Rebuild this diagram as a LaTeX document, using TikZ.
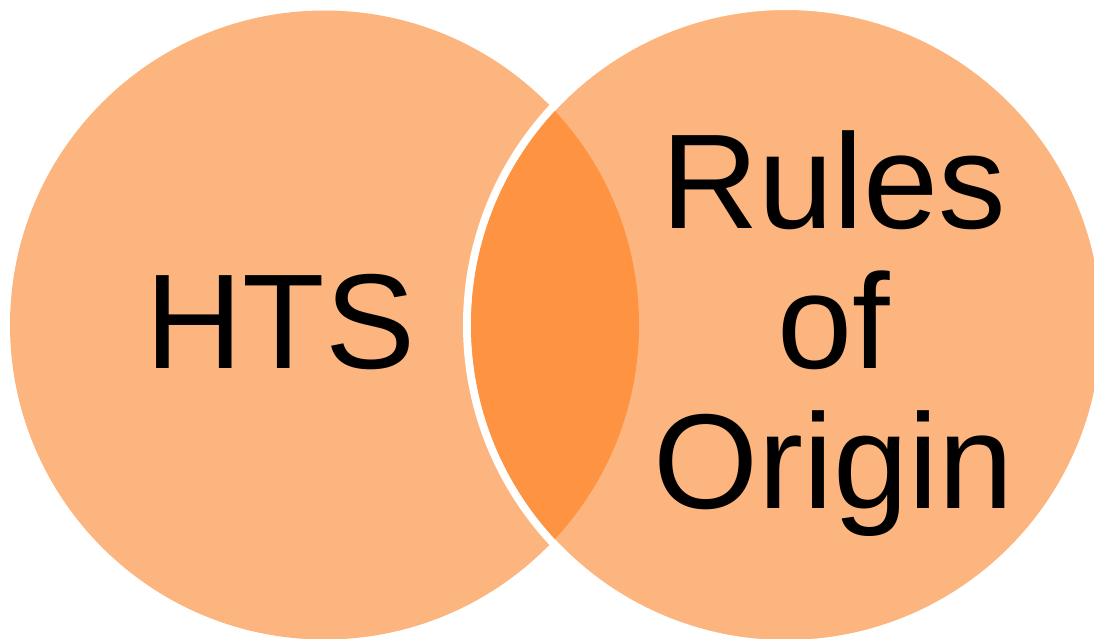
\documentclass[tikz,border=0pt]{standalone}
\usepackage{fontspec}
\setmainfont{Liberation Sans}
\definecolor{setlight}{HTML}{FDB580}
\definecolor{setdark}{HTML}{FE9342}
\begin{document}
\begin{tikzpicture}[x=1pt,y=-1pt,
  biglabel/.style={inner sep=0pt, anchor=base, align=center, text=black,
                   font=\fontsize{135}{140}\selectfont}]
  \useasboundingbox (0,0) rectangle (1094,638);
  % left set
  \fill[setlight] (324.5,325) circle[radius=314.5];
  % right set, outlined in white where it overlaps
  \fill[setlight, draw=white, line width=8pt] (786,325) circle[radius=319];
  % overlap of the two sets
  \begin{scope}
    \clip (324.5,325) circle[radius=314.5];
    \fill[setdark] (786,325) circle[radius=315];
  \end{scope}
  % labels (base of a multi-line node is its last line)
  \node[biglabel] (hts) at (280.5,368) {HTS};
  \node[biglabel] (roo) at (834,508) {Rules\\of\\Origin};
\end{tikzpicture}
\end{document}
